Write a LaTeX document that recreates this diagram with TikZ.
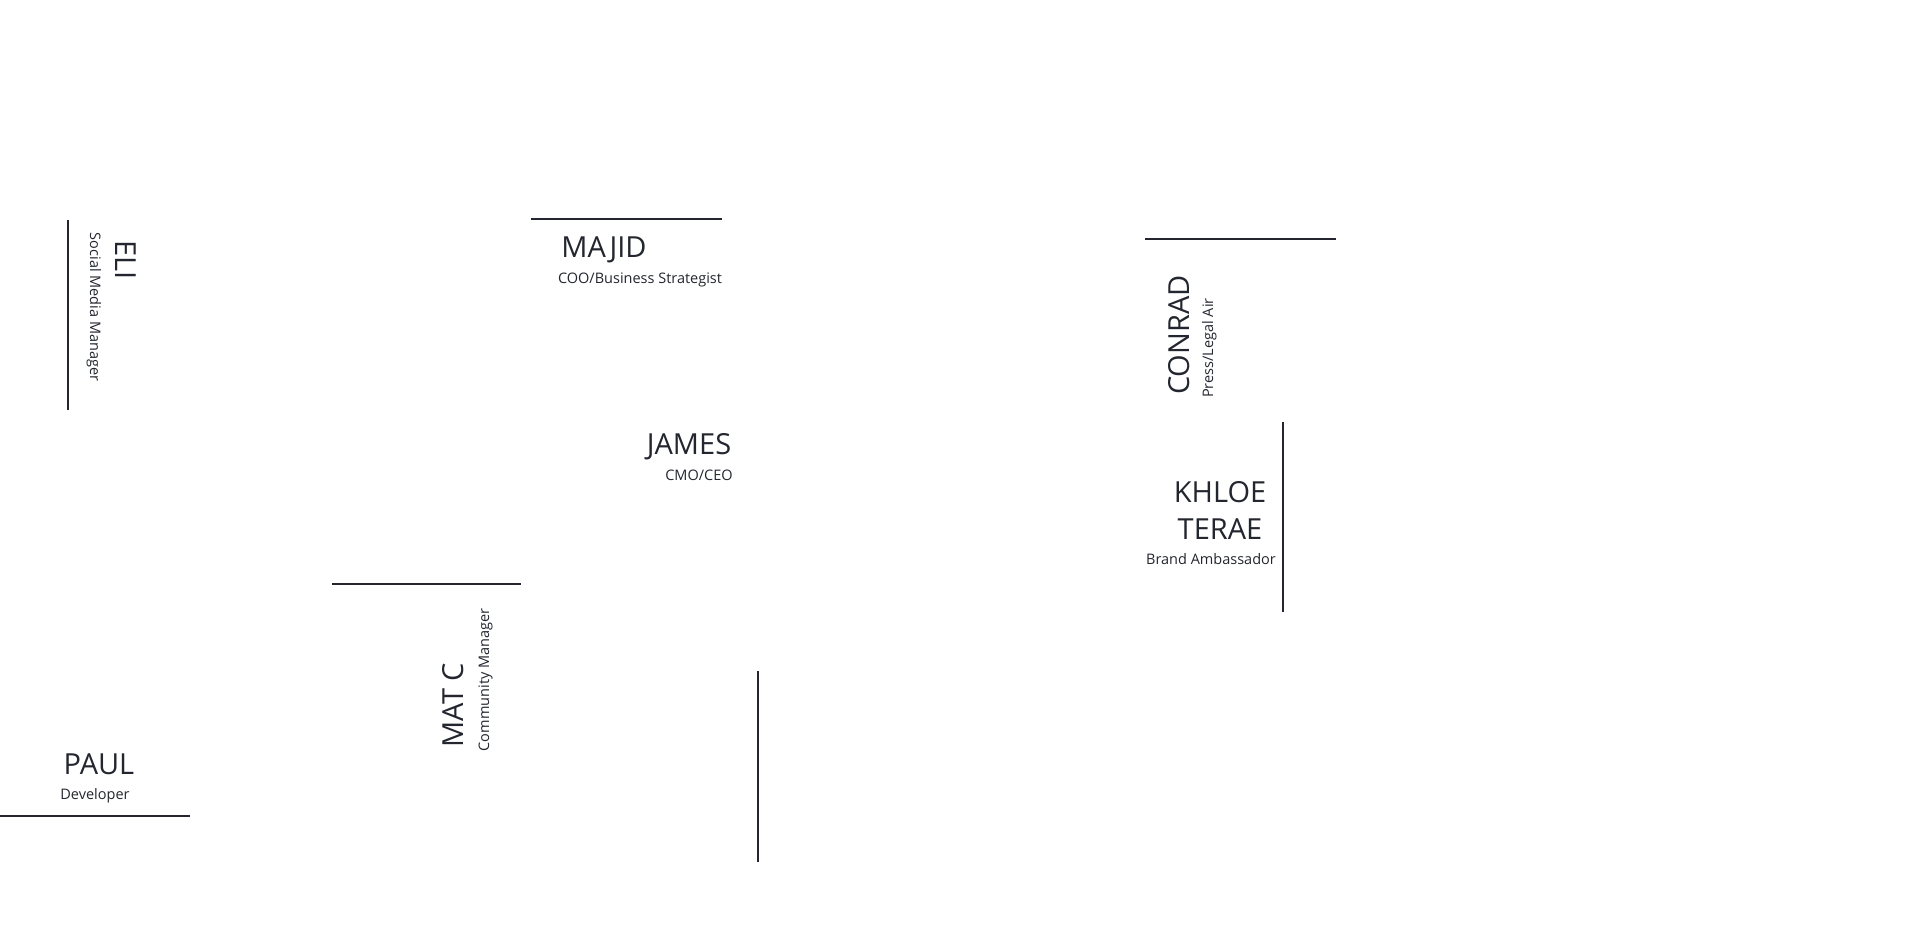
\documentclass[tikz,border=0pt]{standalone}
\usepackage{fontspec}
\setmainfont{Open Sans}
\definecolor{ink}{HTML}{23262E}
\begin{document}
\begin{tikzpicture}[x=1pt,y=-1pt,
  who/.style={text=ink,inner sep=0pt,anchor=base,font=\fontsize{29}{34}\selectfont},
  job/.style={text=ink,inner sep=0pt,anchor=base,font=\fontsize{14.5}{17}\selectfont},
  bar/.style={draw=ink,line width=2pt}]
\useasboundingbox (0,0) rectangle (1920,933);
% bars
\draw[bar] (68,220) -- (68,410);
\draw[bar] (531,219) -- (722,219);
\draw[bar] (1145,239) -- (1336,239);
\draw[bar] (1283,422) -- (1283,612);
\draw[bar] (332,584) -- (521,584);
\draw[bar] (758,671) -- (758,862);
\draw[bar] (0,816) -- (190,816);
% names
\node[who,rotate=-90] (eli) at (115,260) {ELI};
\node[job,rotate=-90] (elijob) at (90,307) {Social Media Manager};
\node[who] (majid) at (604,258) {MAJID};
\node[job] (majidjob) at (640,284) {COO/Business Strategist};
\node[who] (james) at (689,454) {JAMES};
\node[job] (jamesjob) at (699,480) {CMO/CEO};
\node[who,rotate=90] (conrad) at (1189,335) {CONRAD};
\node[job,rotate=90] (conradjob) at (1213,348) {Press/Legal Air};
\node[who] (khloe) at (1220,502) {KHLOE};
\node[who] (terae) at (1220,539) {TERAE};
\node[job] (khloejob) at (1211,564) {Brand Ambassador};
\node[who,rotate=90] (matc) at (463,705) {MAT C};
\node[job,rotate=90] (matcjob) at (489,680) {Community Manager};
\node[who] (paul) at (99,774) {PAUL};
\node[job] (pauljob) at (95,799) {Developer};
\end{tikzpicture}
\end{document}
